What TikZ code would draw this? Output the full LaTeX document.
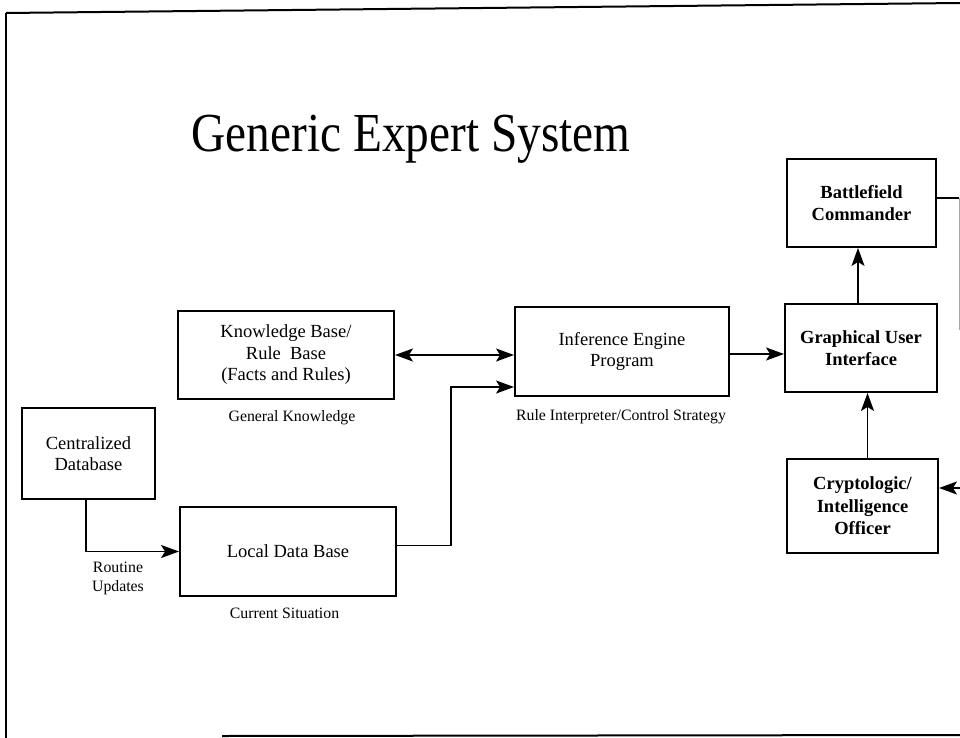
\documentclass[tikz,border=0pt]{standalone}
\usepackage{fontspec}
\usepackage{graphicx}
\setmainfont{Liberation Serif}
\usetikzlibrary{arrows.meta,calc}
\begin{document}
\begin{tikzpicture}[x=1pt,y=-1pt,
  box/.style={draw,line width=1.9pt,rectangle,inner sep=0pt,align=center,font=\fontsize{18.5}{21.5}\selectfont},
  bbox/.style={box,font=\fontsize{18.5}{22.5}\selectfont\bfseries},
  lbl/.style={font=\fontsize{15.8}{19}\selectfont,anchor=base,inner sep=0pt,align=center},
  tip/.tip={Stealth[length=18pt,width=13pt,inset=4pt]},
  conn/.style={line width=1.7pt,-tip},
  frameline/.style={line width=2pt}]
\useasboundingbox (0,0) rectangle (960,738);
% frame
\draw[frameline] (6,13) -- (6,738);
\draw[frameline] (6,13) -- (960,3);
\draw[frameline] (222,736) -- (960,735);
% title
\node[anchor=base,inner sep=0pt] (title) at (411,152) {\scalebox{0.86}[1]{\fontsize{55}{60}\selectfont Generic Expert System}};
% boxes
\node[box,minimum width=133pt,minimum height=91pt] (cdb) at (88.5,453.5) {Centralized\\Database};
\node[box,minimum width=216pt,minimum height=89pt] (ldb) at (288,551.5) {Local Data Base};
\node[box,minimum width=216pt,minimum height=88pt] (kb) at (286,355) {Knowledge Base/\\Rule~ Base\\(Facts and Rules)};
\node[box,minimum width=214pt,minimum height=89pt] (ie) at (622,351.5) {Inference Engine\\Program};
\node[bbox,minimum width=152pt,minimum height=88pt] (gui) at (861,348) {Graphical User\\Interface};
\node[bbox,minimum width=149pt,minimum height=88pt] (bc) at (861.5,203) {Battlefield\\Commander};
\node[bbox,minimum width=151pt,minimum height=94pt] (co) at (862.5,506) {Cryptologic/\\Intelligence\\Officer};
% labels
\node[lbl] (lgk) at (292,421.5) {General Knowledge};
\node[lbl] (lcs) at (284.5,618) {Current Situation};
\node[lbl] (lri) at (621,420) {Rule Interpreter/Control Strategy};
\node[lbl] (lru) at (118,591.5) {Routine\\Updates};
% connectors
\draw[conn] ([xshift=-2.5pt]cdb.south) |- (ldb.west);
\draw[line width=1.7pt,tip-tip] (kb.east) -- (kb.east -| ie.west);
\coordinate (j1) at (451,387);
\draw[conn] ([yshift=6pt]ldb.east) -| (j1) -- (j1 -| ie.west);
\draw[conn] ([yshift=-2.5pt]ie.east) -- ([yshift=-2.5pt]ie.east -| gui.west);
\draw[conn] ([xshift=-3pt]gui.north) -- ([xshift=-3pt]gui.north |- bc.south);
\draw[conn] ([xshift=5pt]co.north) -- ([xshift=5pt]co.north |- gui.south);
\coordinate (bcend) at (959,198);
\coordinate (bcdown) at (959,330);
\draw[line width=1.7pt] ([yshift=5pt]bc.east) -- (bcend);
\draw[line width=0.6pt,black!35] (bcend) -- (bcdown);
\coordinate (coin) at (962,488);
\draw[conn] (coin) -- (coin -| co.east);
\end{tikzpicture}
\end{document}
